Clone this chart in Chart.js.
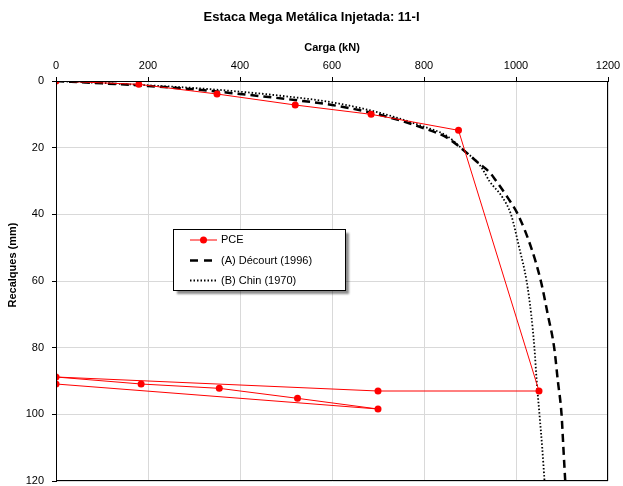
<!DOCTYPE html>
<html lang="pt">
<head>
<meta charset="UTF-8">
<title>Estaca Mega Metálica Injetada: 11-I</title>
<script src="https://cdn.jsdelivr.net/npm/chart.js"></script>
<style>
  html, body { margin: 0; padding: 0; background: #fff; }
  canvas { display: block; }
</style>
</head>
<body>
<canvas id="chart" width="623" height="486"></canvas>
<script>
// Prova de carga (PCE)
const pceLoad   = [0, 180, 350, 520, 685, 875, 1050, 700, 0, 185, 355, 525, 700, 0];
const pceSettle = [0, 1.0, 3.9, 7.2, 10.0, 14.8, 93.0, 93.0, 88.8, 90.9, 92.2, 95.2, 98.4, 90.9];

// (A) Décourt (1996)
const decourtLoad   = [0, 100, 200, 300, 400, 500, 600, 700, 800, 850, 888, 920, 942, 957, 982, 1004, 1033, 1054, 1069, 1083, 1091, 1099, 1103, 1107];
const decourtSettle = [0, 0.7, 1.5, 2.5, 3.9, 5.4, 7.2, 10.0, 14.2, 17.0, 21.0, 24.8, 27.3, 30, 35, 40, 50, 60, 70, 80, 90, 100, 110, 120];

// (B) Chin (1970)
const chinLoad   = [0, 100, 200, 300, 400, 500, 600, 700, 800, 850, 888, 919, 931, 942, 971, 989, 1007, 1023, 1033, 1040, 1045, 1051, 1057, 1062];
const chinSettle = [0, 0.6, 1.3, 2.1, 3.2, 4.6, 6.4, 9.4, 13.7, 16.5, 21.0, 24.8, 27.3, 30, 35, 40, 50, 60, 70, 80, 90, 100, 110, 120];

const seriesNames = ['PCE', '(A) Décourt (1996)', '(B) Chin (1970)'];
const chartTitle = 'Estaca Mega Metálica Injetada: 11-I';
const xTitle = 'Carga (kN)';
const yTitle = 'Recalques (mm)';

const FONT = '"Liberation Sans", Arial, sans-serif';
Chart.defaults.font.family = FONT;
Chart.defaults.color = '#000';

function toPoints(xs, ys) {
  return xs.map((x, i) => ({ x: x, y: ys[i] }));
}

// frame, titles and boxed legend inside the plot
const extras = {
  id: 'extras',
  afterDraw(chart) {
    const ctx = chart.ctx;
    const a = chart.chartArea;
    ctx.save();
    ctx.strokeStyle = '#000';
    ctx.lineWidth = 1;
    ctx.strokeRect(Math.round(a.left) + 0.5, Math.round(a.top) + 0.5,
                   Math.round(a.right - a.left) - 1, Math.round(a.bottom - a.top) - 1);

    ctx.fillStyle = '#000';
    ctx.font = 'bold 13px ' + FONT;
    ctx.textAlign = 'center';
    ctx.textBaseline = 'middle';
    ctx.fillText(chartTitle, chart.width / 2, 17);

    // y title sits a bit above the middle, like the original
    ctx.save();
    ctx.translate(13, 265);
    ctx.rotate(-Math.PI / 2);
    ctx.font = 'bold 11px ' + FONT;
    ctx.fillText(yTitle, 0, 0);
    ctx.restore();

    // legend
    const bx = 173.5, by = 229.5, bw = 172, bh = 61;
    ctx.save();
    ctx.shadowColor = 'rgba(0,0,0,0.45)';
    ctx.shadowOffsetX = 3;
    ctx.shadowOffsetY = 3;
    ctx.shadowBlur = 2;
    ctx.fillStyle = '#fff';
    ctx.fillRect(bx, by, bw, bh);
    ctx.restore();
    ctx.strokeStyle = '#000';
    ctx.lineWidth = 1;
    ctx.strokeRect(bx, by, bw, bh);

    const rows = [240, 260.5, 280.5];
    chart.data.datasets.forEach((ds, i) => {
      const y = rows[i];
      ctx.save();
      ctx.strokeStyle = ds.borderColor;
      ctx.lineWidth = ds.borderWidth;
      ctx.setLineDash(i === 1 ? [8, 6] : (ds.borderDash || []));
      ctx.beginPath();
      ctx.moveTo(190, y);
      ctx.lineTo(217, y);
      ctx.stroke();
      ctx.setLineDash([]);
      if (ds.pointRadius > 0) {
        ctx.fillStyle = ds.pointBackgroundColor;
        ctx.beginPath();
        ctx.arc(203.5, y, ds.pointRadius, 0, Math.PI * 2);
        ctx.fill();
      }
      ctx.fillStyle = '#000';
      ctx.font = '11px ' + FONT;
      ctx.textAlign = 'left';
      ctx.textBaseline = 'middle';
      ctx.fillText(ds.label, 221, y);
      ctx.restore();
    });
    ctx.restore();
  }
};

new Chart(document.getElementById('chart'), {
  type: 'scatter',
  data: {
    datasets: [
      {
        label: seriesNames[0],
        data: toPoints(pceLoad, pceSettle),
        showLine: true,
        borderColor: '#ff0000',
        borderWidth: 1,
        pointRadius: 3.5,
        pointBackgroundColor: '#ff0000',
        pointBorderColor: '#ff0000',
        pointBorderWidth: 0,
        order: 0
      },
      {
        label: seriesNames[1],
        data: toPoints(decourtLoad, decourtSettle),
        showLine: true,
        borderColor: '#000',
        borderWidth: 2.5,
        borderDash: [8, 5],
        pointRadius: 0,
        cubicInterpolationMode: 'monotone',
        order: 1
      },
      {
        label: seriesNames[2],
        data: toPoints(chinLoad, chinSettle),
        showLine: true,
        borderColor: '#000',
        borderWidth: 1.8,
        borderDash: [1.5, 2],
        pointRadius: 0,
        cubicInterpolationMode: 'monotone',
        order: 2
      }
    ]
  },
  options: {
    responsive: false,
    animation: false,
    layout: { padding: { top: 0, left: 0, right: 15, bottom: 5 } },
    plugins: {
      legend: { display: false },
      title: { display: false },
      tooltip: { enabled: false }
    },
    scales: {
      x: {
        type: 'linear',
        position: 'top',
        min: 0,
        max: 1200,
        ticks: { stepSize: 200, padding: 4, font: { size: 11 }, callback: v => String(v) },
        grid: { color: '#d9d9d9', tickColor: '#000', tickLength: 4 },
        border: { color: '#000', width: 1 },
        title: { display: true, text: xTitle, font: { size: 11, weight: 'bold' }, padding: { top: 41, bottom: 0 } },
        afterFit(scale) { scale.height = 81; scale.paddingLeft = 0; scale.paddingRight = 0; }
      },
      y: {
        type: 'linear',
        reverse: true,
        min: 0,
        max: 120,
        ticks: { stepSize: 20, padding: 8, font: { size: 11 }, callback: v => String(v) },
        grid: { color: '#d9d9d9', tickColor: '#000', tickLength: 4 },
        border: { color: '#000', width: 1 },
        title: { display: false, text: yTitle },
        afterFit(scale) { scale.width = 56; scale.paddingTop = 0; scale.paddingBottom = 0; }
      }
    }
  },
  plugins: [extras]
});
</script>
</body>
</html>
